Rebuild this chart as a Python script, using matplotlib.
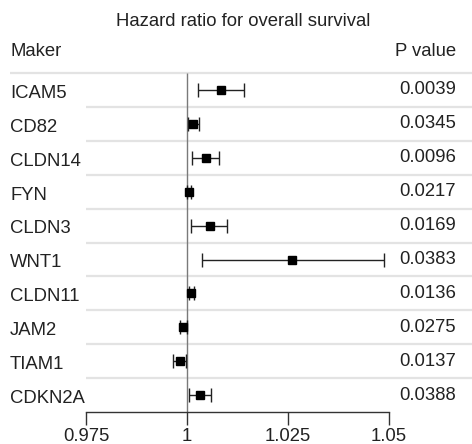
import matplotlib
matplotlib.use('Agg')
import matplotlib.pyplot as plt
import numpy as np

plt.rcParams['font.family'] = ['Liberation Sans', 'DejaVu Sans']

markers = ['ICAM5', 'CD82', 'CLDN14', 'FYN', 'CLDN3', 'WNT1', 'CLDN11', 'JAM2', 'TIAM1', 'CDKN2A']
hr = [1.0084, 1.0015, 1.0047, 1.0005, 1.0056, 1.0260, 1.0010, 0.9990, 0.9983, 1.0032]
ci_low = [1.0027, 1.0002, 1.0012, 0.9999, 1.0011, 1.0037, 1.0005, 0.9983, 0.9965, 1.0005]
ci_high = [1.0141, 1.0030, 1.0079, 1.0010, 1.0099, 1.0488, 1.0017, 1.0000, 0.9998, 1.0060]
p_values = ['0.0039', '0.0345', '0.0096', '0.0217', '0.0169', '0.0383', '0.0136', '0.0275', '0.0137', '0.0388']
ticks = [0.975, 1, 1.025, 1.05]
tick_labels = ['0.975', '1', '1.025', '1.05']

W, H = 472, 444
fig = plt.figure(figsize=(W / 100, H / 100), dpi=100)
ax = fig.add_axes([0, 0, 1, 1])

# map pixels -> data so the forest sits where it does in the figure
px_per_unit = 4040.0
x0 = 0.975 - 86 / px_per_unit
x1 = 0.975 + (W - 86) / px_per_unit
row_h = 33.9
ax.set_xlim(x0, x1)
ax.set_ylim((H - 90) / row_h, -90 / row_h)

n = len(markers)
y = np.arange(n)

# row separators
ax.hlines(-0.5, x0 + 10 / px_per_unit, x1, color='#e3e3e3', lw=1.6, zorder=1)
ax.hlines(y[:-1] + 0.5, 0.975, x1, color='#e3e3e3', lw=1.6, zorder=1)

# reference line
ax.vlines(1, -0.5, n - 0.5, color='#7a7a7a', lw=1.0, zorder=2)

err = [np.array(hr) - np.array(ci_low), np.array(ci_high) - np.array(hr)]
ax.errorbar(hr, y, xerr=err, fmt='s', color='black', ecolor='#222222',
            elinewidth=1.0, capsize=5, capthick=1.0, markersize=5.8, zorder=3)

fs = 13.3
for i in range(n):
    ax.text(x0 + 10 / px_per_unit, y[i] + 0.1, markers[i], fontsize=fs,
            va='center', ha='left', color='#222222')
    ax.text(x0 + 456 / px_per_unit, y[i], p_values[i], fontsize=fs,
            va='center', ha='right', color='#222222')

ax.text(x0 + 243 / px_per_unit, (22 - 90) / row_h, 'Hazard ratio for overall survival',
        fontsize=fs, ha='center', va='center', color='#222222')
ax.text(x0 + 10 / px_per_unit, (52 - 90) / row_h, 'Maker', fontsize=fs,
        ha='left', va='center', color='#222222')
ax.text(x0 + 456 / px_per_unit, (52 - 90) / row_h, 'P value', fontsize=fs,
        ha='right', va='center', color='#222222')

# axis
for s in ['top', 'left', 'right']:
    ax.spines[s].set_visible(False)
ax.spines['bottom'].set_position(('data', (412 - 90) / row_h))
ax.spines['bottom'].set_bounds(0.975, 1.05)
ax.spines['bottom'].set_color('#333333')
ax.spines['bottom'].set_linewidth(1.0)
ax.set_xticks(ticks)
ax.set_xticklabels(tick_labels)
ax.tick_params(axis='x', direction='out', length=9.3, width=1.0, color='#333333',
               labelsize=fs, pad=2.5, labelcolor='#222222')
ax.set_yticks([])
ax.patch.set_visible(False)

fig.savefig('out.png', dpi=100)
